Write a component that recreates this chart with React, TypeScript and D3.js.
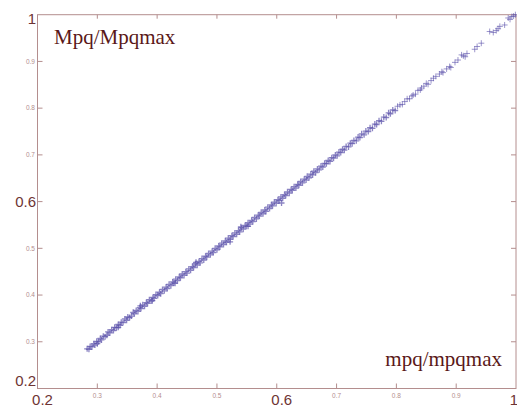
import React from 'react';
import * as d3 from 'd3';

// mpq/mpqmax (x) vs Mpq/Mpqmax (y)
const lowBand: [number, number][] = [
  [0.283, 0.285], [0.286, 0.284], [0.288, 0.290], [0.291, 0.289], [0.294, 0.296], [0.296, 0.293],
  [0.299, 0.301], [0.302, 0.300], [0.305, 0.307], [0.307, 0.304], [0.310, 0.312], [0.313, 0.311],
  [0.316, 0.314], [0.318, 0.321], [0.321, 0.319], [0.324, 0.326], [0.327, 0.324], [0.329, 0.331],
  [0.332, 0.330], [0.335, 0.337], [0.338, 0.335], [0.340, 0.342], [0.343, 0.341], [0.346, 0.349],
  [0.349, 0.346], [0.351, 0.353], [0.354, 0.352], [0.357, 0.355], [0.360, 0.363], [0.362, 0.360],
  [0.365, 0.367], [0.368, 0.365], [0.371, 0.373], [0.373, 0.371], [0.376, 0.379], [0.379, 0.376],
  [0.382, 0.384], [0.384, 0.382], [0.387, 0.390], [0.390, 0.387], [0.393, 0.395], [0.395, 0.393],
  [0.398, 0.401], [0.300, 0.296], [0.335, 0.331], [0.372, 0.377], [0.392, 0.388],
];

const midBand: [number, number][] = [
  [0.401, 0.399], [0.404, 0.406], [0.406, 0.403], [0.409, 0.412], [0.412, 0.409], [0.415, 0.417],
  [0.417, 0.414], [0.420, 0.423], [0.423, 0.420], [0.426, 0.428], [0.428, 0.426], [0.431, 0.434],
  [0.434, 0.431], [0.437, 0.439], [0.439, 0.437], [0.442, 0.445], [0.445, 0.442], [0.448, 0.450],
  [0.450, 0.447], [0.453, 0.456], [0.456, 0.453], [0.459, 0.461], [0.461, 0.459], [0.464, 0.467],
  [0.467, 0.464], [0.470, 0.472], [0.472, 0.469], [0.475, 0.478], [0.478, 0.475], [0.481, 0.483],
  [0.483, 0.481], [0.486, 0.489], [0.489, 0.486], [0.492, 0.494], [0.494, 0.491], [0.497, 0.500],
  [0.500, 0.497], [0.503, 0.505], [0.505, 0.503], [0.508, 0.511], [0.511, 0.508], [0.514, 0.516],
  [0.516, 0.513], [0.519, 0.522], [0.522, 0.519], [0.525, 0.527], [0.527, 0.525], [0.530, 0.533],
  [0.533, 0.530], [0.536, 0.538], [0.538, 0.535], [0.541, 0.544], [0.544, 0.541], [0.547, 0.549],
  [0.549, 0.547], [0.552, 0.555], [0.555, 0.552], [0.558, 0.560], [0.560, 0.557], [0.563, 0.566],
  [0.566, 0.563], [0.569, 0.571], [0.571, 0.569], [0.574, 0.577], [0.577, 0.574], [0.580, 0.582],
  [0.582, 0.579], [0.585, 0.588], [0.588, 0.585], [0.591, 0.593], [0.593, 0.591], [0.596, 0.599],
  [0.599, 0.596], [0.430, 0.425], [0.465, 0.470], [0.522, 0.514], [0.540, 0.546], [0.552, 0.547],
];

const highBand: [number, number][] = [
  [0.602, 0.604], [0.604, 0.602], [0.607, 0.610], [0.610, 0.607], [0.613, 0.615], [0.615, 0.613],
  [0.618, 0.621], [0.621, 0.618], [0.624, 0.626], [0.626, 0.624], [0.629, 0.632], [0.632, 0.629],
  [0.635, 0.637], [0.637, 0.635], [0.640, 0.643], [0.643, 0.640], [0.646, 0.648], [0.649, 0.646],
  [0.651, 0.654], [0.654, 0.651], [0.657, 0.659], [0.660, 0.657], [0.662, 0.665], [0.665, 0.662],
  [0.668, 0.670], [0.671, 0.668], [0.674, 0.676], [0.677, 0.674], [0.680, 0.682], [0.683, 0.681],
  [0.686, 0.688], [0.689, 0.686], [0.692, 0.694], [0.695, 0.693], [0.698, 0.700], [0.701, 0.698],
  [0.704, 0.706], [0.707, 0.705], [0.710, 0.712], [0.713, 0.710], [0.716, 0.718], [0.720, 0.717],
  [0.723, 0.725], [0.726, 0.724], [0.729, 0.731], [0.733, 0.730], [0.736, 0.738], [0.739, 0.737],
  [0.742, 0.745], [0.746, 0.743], [0.749, 0.751], [0.753, 0.750], [0.756, 0.758], [0.760, 0.757],
  [0.764, 0.766], [0.767, 0.765], [0.771, 0.773], [0.775, 0.772], [0.779, 0.781], [0.783, 0.780],
  [0.787, 0.790], [0.790, 0.788], [0.794, 0.796], [0.798, 0.795], [0.608, 0.597],
];

const topSparse: [number, number][] = [
  [0.802, 0.804], [0.806, 0.807], [0.810, 0.808], [0.814, 0.814], [0.818, 0.820], [0.822, 0.820],
  [0.826, 0.826], [0.828, 0.828], [0.832, 0.830], [0.836, 0.838], [0.840, 0.839], [0.842, 0.843],
  [0.846, 0.847], [0.850, 0.853], [0.853, 0.851], [0.858, 0.859], [0.862, 0.864], [0.866, 0.868],
  [0.872, 0.873], [0.876, 0.878], [0.878, 0.876], [0.884, 0.884], [0.889, 0.889], [0.891, 0.887],
  [0.898, 0.898], [0.903, 0.903], [0.909, 0.914], [0.912, 0.912], [0.915, 0.910], [0.918, 0.917],
  [0.931, 0.926], [0.935, 0.932], [0.942, 0.939], [0.956, 0.964], [0.962, 0.962], [0.967, 0.966],
  [0.970, 0.970], [0.973, 0.975], [0.981, 0.978], [0.987, 0.993], [0.990, 0.990], [0.993, 0.996],
  [0.996, 0.997], [0.999, 1.000],
];

const minorTicks = [0.3, 0.4, 0.5, 0.7, 0.8, 0.9];
const allTicks = [0.3, 0.4, 0.5, 0.6, 0.7, 0.8, 0.9];
const majorLabels = [0.2, 0.6, 1];

const W = 517, H = 405;
const frameColor = '#b48e8e';
const majorColor = '#6e3434';
const titleColor = '#5a1818';
const markColor = '#5a50aa';

export default function App() {
  const x = d3.scaleLinear().domain([0.2, 1]).range([37.5, 516]);
  const y = d3.scaleLinear().domain([0.2, 1]).range([388.5, 14.7]);
  const fmt = d3.format('.1f');
  const dense = [...lowBand, ...midBand, ...highBand];
  const s = 3;

  const cross = ([px, py]: [number, number]) =>
    `M${x(px) - s},${y(py)}h${2 * s}M${x(px)},${y(py) - s}v${2 * s}`;

  return (
    <svg width={W} height={H} style={{ position: 'absolute', left: 0, top: 0 }}>
      <rect width={W} height={H} fill="#fff" />
      <rect x={x(0.2)} y={y(1)} width={x(1) - x(0.2)} height={y(0.2) - y(1)}
        fill="none" stroke={frameColor} strokeWidth={1} />
      {allTicks.map(t => (
        <g key={t} stroke={frameColor} strokeWidth={1}>
          <line x1={x(t)} x2={x(t)} y1={y(0.2)} y2={y(0.2) - 5} />
          <line x1={x(t)} x2={x(t)} y1={y(1)} y2={y(1) + 4} />
          <line x1={x(0.2)} x2={x(0.2) + 5} y1={y(t)} y2={y(t)} />
          <line x1={x(1)} x2={x(1) - 5} y1={y(t)} y2={y(t)} />
        </g>
      ))}
      <g fontFamily="Liberation Sans, Arial, sans-serif" fontSize={6.5} fill={frameColor}>
        {minorTicks.map(t => (
          <text key={'yl' + t} x={35} y={y(t)} dy="0.35em" textAnchor="end">{fmt(t)}</text>
        ))}
        {minorTicks.map(t => (
          <text key={'xl' + t} x={x(t)} y={397.5} textAnchor="middle">{fmt(t)}</text>
        ))}
      </g>
      <g fontFamily="Liberation Sans, Arial, sans-serif" fontSize={15} fill={majorColor}>
        {majorLabels.map(t => (
          <text key={'ym' + t} x={36} y={Math.min(Math.max(y(t), 18.3), 380.5)} dy="0.35em"
            textAnchor="end">{t === 1 ? '1' : fmt(t)}</text>
        ))}
        {majorLabels.map(t => (
          <text key={'xm' + t} x={Math.min(x(t) + 5, 514)} y={405}
            textAnchor="middle">{t === 1 ? '1' : fmt(t)}</text>
        ))}
      </g>
      <g stroke={markColor} strokeWidth={1.3} strokeOpacity={0.7} fill="none">
        {dense.map((p, i) => <path key={'d' + i} d={cross(p)} />)}
      </g>
      <g stroke={markColor} strokeWidth={1} strokeOpacity={0.6} fill="none">
        {topSparse.map((p, i) => <path key={'t' + i} d={cross(p)} />)}
      </g>
      <g fontFamily="Liberation Serif, Times New Roman, serif" fontSize={21} fill={titleColor}>
        <text x={54} y={44}>Mpq/Mpqmax</text>
        <text x={502} y={366} textAnchor="end">mpq/mpqmax</text>
      </g>
    </svg>
  );
}
